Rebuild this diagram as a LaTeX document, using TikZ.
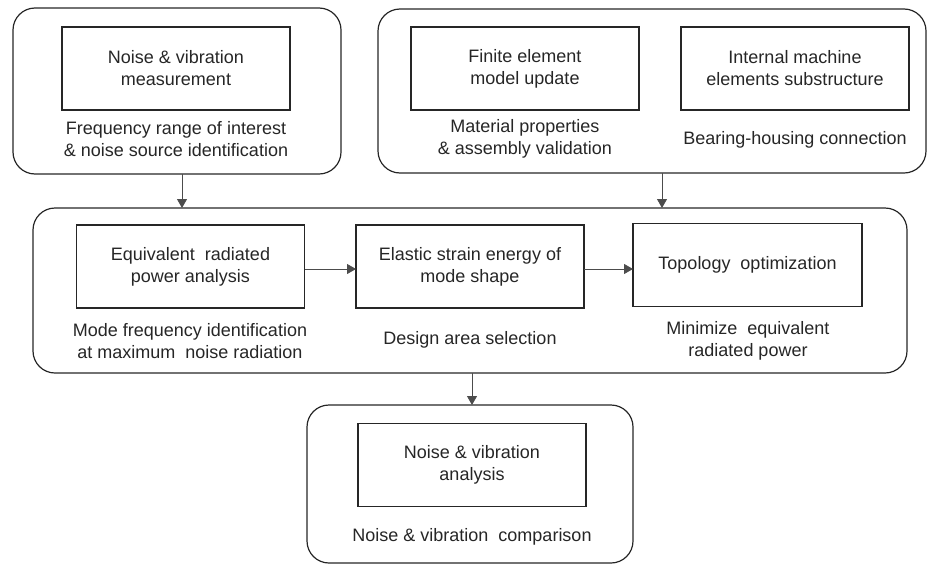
\documentclass[tikz,border=0pt]{standalone}
\usepackage{fontspec}
\setmainfont{Liberation Sans}
\usetikzlibrary{arrows.meta}

\begin{document}
\begin{tikzpicture}[x=1pt, y=-1pt,
    font=\fontsize{18}{22}\selectfont, text=black!85,
    group/.style={draw=black!85, line width=1.2pt, rounded corners=22pt, inner sep=0pt, outer sep=0pt},
    task/.style={draw=black!85, line width=1.1pt, minimum width=228pt, minimum height=83pt, inner sep=0pt, outer sep=0pt, align=center},
    note/.style={align=center, inner sep=0pt},
    flow/.style={draw=black!70, line width=0.8pt, -{Triangle[length=9pt, width=10pt]}}]
      \useasboundingbox (0,0) rectangle (928,565);

      \node[group, minimum width=328pt, minimum height=166pt] (meas) at (177,91) {};
      \node[task] (nvm) at (176,68.5) {Noise \& vibration\\measurement};
      \node[note] (freq) at (176,139) {Frequency range of interest\\\& noise source identification};

      \node[group, minimum width=548pt, minimum height=164pt] (model) at (652,91) {};
      \node[task] (fem) at (525,68.5) {Finite element\\model update};
      \node[task] (ime) at (795,68.5) {Internal machine\\elements substructure};
      \node[note] (mat) at (525,139) {Material properties\\\& assembly validation};
      \node[note] (bear) at (795,140) {Bearing-housing connection};

      \node[group, minimum width=874pt, minimum height=165pt] (opt) at (470,290.5) {};
      \node[task] (erp) at (190.5,266.5) {Equivalent\ \ radiated\\power\ analysis};
      \node[task] (ese) at (470,266.5) {Elastic strain energy of\\mode shape};
      \node[task, minimum width=229pt] (topo) at (747.5,265) {Topology\ \ optimization};
      \node[note] (mode) at (190,341) {Mode frequency identification\\at maximum\ \ noise radiation};
      \node[note] (area) at (470,340) {Design area selection};
      \node[note] (mini) at (748,341) {Minimize\ \ equivalent\\radiated power};

      \node[group, minimum width=326pt, minimum height=158pt] (comp) at (470,484) {};
      \node[task] (nva) at (472,465) {Noise \& vibration\\analysis};
      \node[note] (nvc) at (472,537) {Noise \& vibration\ \ comparison};

      \draw[flow] ([xshift=5pt]meas.south) -- ([xshift=5pt]meas.south |- opt.north);
      \draw[flow] ([xshift=10pt]model.south) -- ([xshift=10pt]model.south |- opt.north);
      \draw[flow] ([yshift=-2.5pt]erp.east) -- ([yshift=-2.5pt]erp.east -| ese.west);
      \draw[flow] ([yshift=-2.5pt]ese.east) -- ([yshift=-2.5pt]ese.east -| topo.west);
      \draw[flow] ([xshift=2pt]opt.south) -- ([xshift=2pt]opt.south |- comp.north);
    \end{tikzpicture}
\end{document}
